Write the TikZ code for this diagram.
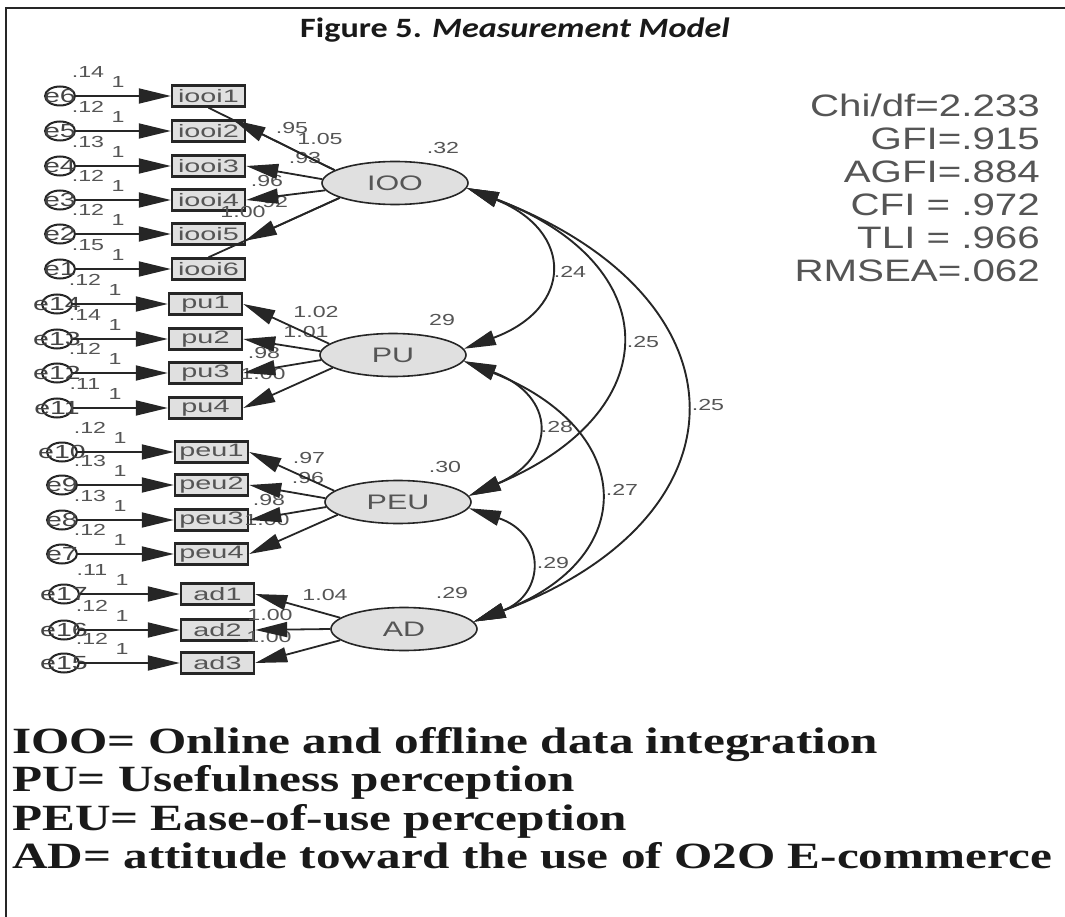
\documentclass[tikz,border=0pt]{standalone}
\usepackage{fontspec}
\setmainfont{Liberation Sans}
\newfontfamily\legfont{Liberation Serif}
\newfontfamily\capfont{Carlito}
\usepackage{graphicx}
\usetikzlibrary{arrows.meta,shapes.geometric}
\newcommand{\hs}[2][1.45]{\scalebox{#1}[1]{#2}}
\definecolor{ln}{HTML}{262626}
\definecolor{tx}{HTML}{555555}
\definecolor{fl}{HTML}{E0E0E0}
\begin{document}
\begin{tikzpicture}[x=1pt,y=-1pt,
  lat/.style={ellipse, draw=ln, fill=fl, line width=1.6pt, minimum width=146pt, minimum height=43pt, inner sep=0pt, text=tx, font=\fontsize{21}{24}\selectfont},
  obs/.style={rectangle, draw=ln, fill=fl, line width=2.4pt, minimum width=73pt, minimum height=21pt, inner sep=0pt, text=tx, font=\fontsize{18}{20}\selectfont},
  err/.style={ellipse, draw=ln, line width=2pt, minimum width=30pt, minimum height=19pt, inner sep=0pt},
  etext/.style={text=tx!80!black, inner sep=0pt, font=\fontsize{19}{20}\selectfont},
  num/.style={text=tx, inner sep=0pt, font=\fontsize{16}{18}\selectfont},
  arr/.style={draw=ln, line width=1.8pt, -{Triangle[length=32pt,width=15pt]}},
  plain/.style={draw=ln, line width=1.8pt},
  cov/.style={draw=ln, line width=1.9pt, {Triangle[length=32pt,width=15pt]}-{Triangle[length=32pt,width=15pt]}},
]
\useasboundingbox (0,0) rectangle (1065,917);
% frame
\draw[line width=2.8pt, draw=black!85] (1065,8) -- (6,8) -- (6,917);
% title
\node[font=\capfont\bfseries\fontsize{28}{32}\selectfont, text=black!90, inner sep=0pt] (title) at (515,30) {\hs[1.22]{Figure 5. \textit{Measurement Model}}};
% fit indices
\node[anchor=east, align=right, text=tx, inner sep=0pt, font=\fontsize{31}{33}\selectfont] (fitidx) at (1040,188)
 {\hs[1.3]{Chi/df=2.233}\\ \hs[1.3]{GFI=.915}\\ \hs[1.3]{AGFI=.884}\\ \hs[1.3]{CFI = .972}\\ \hs[1.3]{TLI = .966}\\ \hs[1.3]{RMSEA=.062}};
% legend
\node[anchor=north west, align=left, inner sep=0pt, text=black!90, font=\legfont\bfseries\fontsize{37}{38.5}\selectfont] (legend) at (12,727)
 {\hs[1.33]{IOO= Online and offline data integration}\\
  \hs[1.33]{PU= Usefulness perception}\\
  \hs[1.33]{PEU= Ease-of-use perception}\\
  \hs[1.33]{AD= attitude toward the use of O2O E-commerce}};
% latent variables
\node[lat] (IOO) at (395,183) {\hs{IOO}};
\node[lat] (PU)  at (393,355) {\hs{PU}};
\node[lat] (PEU) at (398,502) {\hs{PEU}};
\node[lat] (AD)  at (404,629) {\hs{AD}};
\node[num] (vIOO) at (443,148) {\hs{.32}};
\node[num] (vPU)  at (442,320) {\hs{29}};
\node[num] (vPEU) at (445,467) {\hs{.30}};
\node[num] (vAD)  at (452,593) {\hs{.29}};
% indicators and errors
\foreach \n/\bx/\y/\e/\ex/\v in {
  iooi1/208.5/96/e6/60/.14, iooi2/208.5/131/e5/60/.12, iooi3/208.5/166/e4/60/.13,
  iooi4/208.5/200/e3/60/.12, iooi5/208.5/234/e2/60/.12, iooi6/208.5/269/e1/60/.15,
  pu1/205.5/304/e14/57/.12, pu2/205.5/339/e13/57/.14, pu3/205.5/373/e12/57/.12, pu4/205.5/408/e11/57/.11,
  peu1/211.5/452/e10/62/.12, peu2/211.5/485/e9/62/.13, peu3/211.5/520/e8/62/.13, peu4/211.5/554/e7/62/.12,
  ad1/217.5/594/e17/64/.11, ad2/217.5/630/e16/64/.12, ad3/217.5/663/e15/64/.12}{
  \node[obs] (\n) at (\bx,\y) {\hs[1.6]{\n}};
  \node[err] (\e) at (\ex,\y) {};
  \node[etext] (\e t) at (\ex,\y) {\hs[1.5]{\e}};
  \node[num] (v\e) at (\ex+28,\y-24) {\hs{\v}};
  \node[num] (w\e) at (\ex+58,\y-14) {\hs{1}};
}
% loading labels
\foreach \t/\x/\y [count=\i] in {.95/292/128, 1.05/320/139, .93/305/158, .96/267/181, .92/272/202, 1.00/243/212,
  1.02/316/312, 1.01/306/332, .98/264/353, 1.00/263/374,
  .97/309/458, .96/308/478, .98/269/500, 1.00/267/520,
  1.04/325/595, 1.00/270/615, 1.00/269/637}{
  \node[num] (ld\i) at (\x,\y) {\hs{\t}};
}
% covariance labels
\node[num] (c1) at (570,272) {\hs{.24}};
\node[num] (c2) at (643,342) {\hs{.25}};
\node[num] (c3) at (708,405) {\hs{.25}};
\node[num] (c4) at (557,427) {\hs{.28}};
\node[num] (c5) at (622,490) {\hs{.27}};
\node[num] (c6) at (553,563) {\hs{.29}};
% error arrows
\foreach \e/\n in {e6/iooi1,e5/iooi2,e4/iooi3,e3/iooi4,e2/iooi5,e1/iooi6,
  e14/pu1,e13/pu2,e12/pu3,e11/pu4,e10/peu1,e9/peu2,e8/peu3,e7/peu4,e17/ad1,e16/ad2,e15/ad3}{
  \draw[arr] (\e.east) -- (\n.west);
}
% loadings IOO
\draw[plain] (IOO.168) -- (iooi1.south);
\draw[arr, shorten >=28pt] (IOO.168) -- (iooi1.south);
\draw[arr] (IOO.177) -- (iooi3.east);
\draw[arr] (IOO.186) -- (iooi4.east);
\draw[plain] (IOO.195) -- (iooi6.north);
\draw[arr, shorten >=40pt] (IOO.195) -- (iooi6.north);
% loadings PU
\draw[arr] (PU.170) -- (pu1.east);
\draw[arr] (PU.177) -- (pu2.east);
\draw[arr] (PU.184) -- (pu3.east);
\draw[arr] (PU.192) -- (pu4.east);
% loadings PEU
\draw[arr] (PEU.170) -- (peu1.east);
\draw[arr] (PEU.177) -- (peu2.east);
\draw[arr] (PEU.184) -- (peu3.east);
\draw[arr] (PEU.192) -- (peu4.east);
% loadings AD
\draw[arr] (AD.170) -- (ad1.east);
\draw[arr] (AD.180) -- (ad2.east);
\draw[arr] (AD.190) -- (ad3.east);
% covariances
\draw[cov] (IOO.-4) .. controls (574,231) and (574,308) .. (PU.5);
\draw[cov] (IOO.-4) .. controls (668,265) and (668,412) .. (PEU.5);
\draw[cov] (IOO.-4) .. controls (753,298) and (753,517) .. (AD.6);
\draw[cov] (PU.-5) .. controls (557,396) and (557,458) .. (PEU.5);
\draw[cov] (PU.-5) .. controls (639,431) and (639,559) .. (AD.6);
\draw[cov] (PEU.-5) .. controls (546,534) and (546,594) .. (AD.6);
\end{tikzpicture}
\end{document}
